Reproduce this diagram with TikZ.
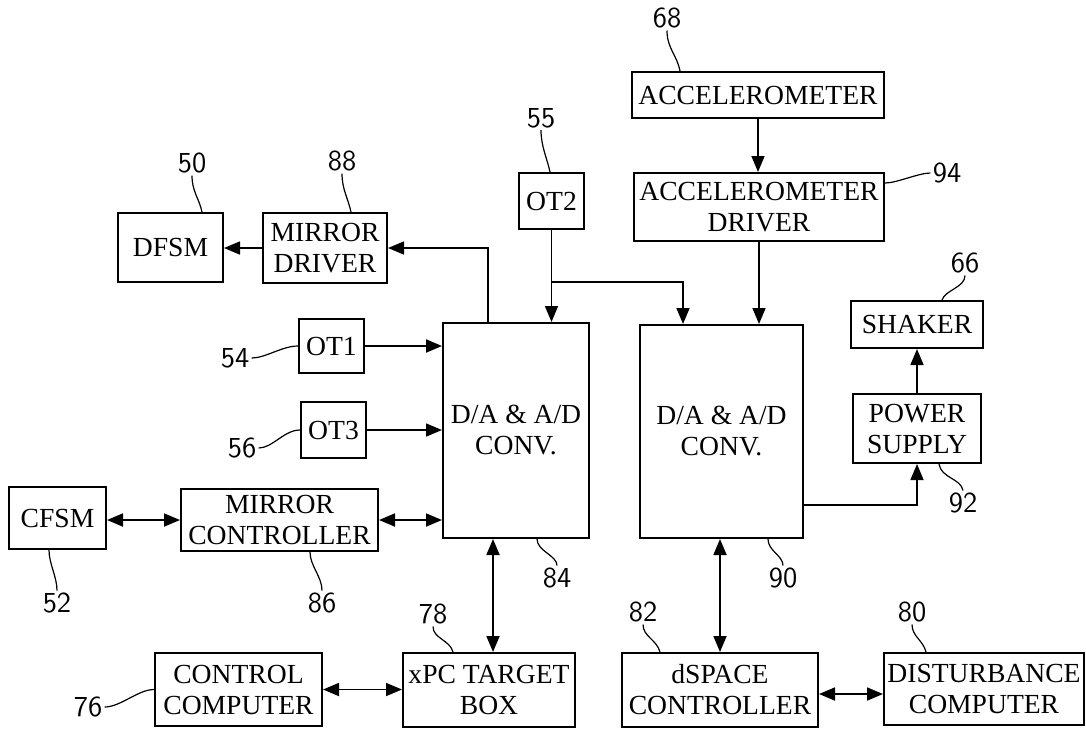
\documentclass[tikz,border=0pt]{standalone}
\usepackage{fontspec}
\setmainfont{Liberation Serif}
\usetikzlibrary{arrows.meta,calc}
\begin{document}
\begin{tikzpicture}[x=0.5pt,y=-0.5pt,
  box/.style={draw,line width=1pt,inner sep=0pt,align=center,font=\fontsize{13.8}{15.5}\selectfont},
  conn/.style={line width=0.8pt,-{Triangle[length=8pt,width=6.5pt]}},
  bi/.style={line width=0.9pt,{Triangle[length=8pt,width=6.5pt]}-{Triangle[length=8pt,width=6.5pt]}},
  ref/.style={font=\fontsize{14.5}{16}\sffamily,inner sep=1pt},
  lead/.style={line width=0.6pt}]
\useasboundingbox (0,0) rectangle (1086,730);

% boxes
\node[box,minimum width=52.5pt,minimum height=34.5pt] (DFSM) at (170.5,247.5) {DFSM};
\node[box,minimum width=62pt,minimum height=35pt] (MDRV) at (325,248) {MIRROR\\DRIVER};
\node[box,minimum width=32.5pt,minimum height=28pt] (OT2) at (551.5,201) {OT2};
\node[box,minimum width=126pt,minimum height=23pt] (ACC) at (758,95) {ACCELEROMETER};
\node[box,minimum width=125pt,minimum height=34pt] (ACCD) at (759,207) {ACCELEROMETER\\DRIVER};
\node[box,minimum width=66pt,minimum height=23.5pt] (SHK) at (917,324.5) {SHAKER};
\node[box,minimum width=64pt,minimum height=34.5pt] (PS) at (917,428.5) {POWER\\SUPPLY};
\node[box,minimum width=32.5pt,minimum height=27pt] (OT1) at (331.5,346) {OT1};
\node[box,minimum width=32.5pt,minimum height=28pt] (OT3) at (333.5,430) {OT3};
\node[box,minimum width=73pt,minimum height=107.5pt] (ADC1) at (516,430.5) {D/A \& A/D\\CONV.};
\node[box,minimum width=81.5pt,minimum height=106.5pt] (ADC2) at (721.5,431.5) {D/A \& A/D\\CONV.};
\node[box,minimum width=48.5pt,minimum height=31pt] (CFSM) at (57.5,518) {CFSM};
\node[box,minimum width=98.5pt,minimum height=31pt] (MCTL) at (279.5,520) {MIRROR\\CONTROLLER};
\node[box,minimum width=83.5pt,minimum height=36.5pt] (CC) at (238.5,689.5) {CONTROL\\COMPUTER};
\node[box,minimum width=86pt,minimum height=37pt] (XPC) at (489,690) {xPC TARGET\\BOX};
\node[box,minimum width=98pt,minimum height=37pt] (DSP) at (720,690) {dSPACE\\CONTROLLER};
\node[box,minimum width=100pt,minimum height=36pt] (DIST) at (984,689) {DISTURBANCE\\COMPUTER};

% connectors
\draw[conn] (MDRV.west) -- (MDRV.west -| DFSM.east);
\draw[conn] ([xshift=-14pt]ADC1.north) |- (MDRV.east);
\draw[conn] (OT2.south) -- (OT2.south |- ADC1.north);
\coordinate (j) at (OT2.south |- 0,282);
\draw[conn] (j) -| ([xshift=-19.25pt]ADC2.north);
\draw[conn] (ACC.south) -- (ACC.south |- ACCD.north);
\draw[conn] (ACCD.south) -- (ACCD.south |- ADC2.north);
\draw[conn] (PS.north) -- (SHK.south);
\draw[conn] ([yshift=-36.75pt]ADC2.east) -| (PS.south);
\draw[conn,line width=1pt] (OT1.east) -- (OT1.east -| ADC1.west);
\draw[conn] (OT3.east) -- (OT3.east -| ADC1.west);
\draw[bi] (CFSM.east |- MCTL.west) -- (MCTL.west);
\draw[bi] (MCTL.east) -- (MCTL.east -| ADC1.west);
\draw[bi] ([xshift=2pt]XPC.north) -- ([xshift=2pt]XPC.north |- ADC1.south);
\draw[bi] (DSP.north) -- (DSP.north |- ADC2.south);
\draw[bi] (CC.east) -- (CC.east -| XPC.west);
\draw[bi] ([yshift=-2pt]DSP.east) -- ([yshift=-2pt]DSP.east -| DIST.west);

% reference numerals
\node[ref] (l50) at (192,163) {50};
\node[ref] (l88) at (342,161) {88};
\node[ref] (l55) at (541,118) {55};
\node[ref] (l68) at (667,18) {68};
\node[ref] (l94) at (947,173) {94};
\node[ref] (l66) at (965,263) {66};
\node[ref] (l92) at (963,503) {92};
\node[ref] (l54) at (235,358) {54};
\node[ref] (l56) at (242,448) {56};
\node[ref] (l52) at (57,603) {52};
\node[ref] (l86) at (322,603) {86};
\node[ref] (l84) at (557,578) {84};
\node[ref] (l90) at (783,578) {90};
\node[ref] (l78) at (433,614) {78};
\node[ref] (l82) at (643,612) {82};
\node[ref] (l80) at (912,612) {80};
\node[ref] (l76) at (88,707) {76};

% leaders
\draw[lead] (l50.south) .. controls +(0,16) and +(-3,-14) .. (DFSM.north -| 202,0);
\draw[lead] (l88.south) .. controls +(0,16) and +(-3,-14) .. (MDRV.north -| 351,0);
\draw[lead] (l55.south) .. controls +(0,16) and +(-3,-14) .. (OT2.north -| 550,0);
\draw[lead] (l68.south) .. controls +(0,18) and +(-3,-16) .. (ACC.north -| 680,0);
\draw[lead] (ACCD.east |- 0,183) .. controls +(12,0) and +(-12,0) .. (l94.west);
\draw[lead] (l66.south) .. controls +(0,12) and +(3,-10) .. (SHK.north -| 942,0);
\draw[lead] (PS.south -| 939,0) .. controls +(2,14) and +(-2,-12) .. (l92.north);
\draw[lead] (l54.east) .. controls +(14,0) and +(-16,0) .. (OT1.west);
\draw[lead] (l56.east) .. controls +(14,0) and +(-16,0) .. (OT3.west);
\draw[lead] (CFSM.south -| 49,0) .. controls +(0,14) and +(0,-14) .. (l52.north);
\draw[lead] (MCTL.south -| 310,0) .. controls +(0,14) and +(0,-14) .. (l86.north);
\draw[lead] (ADC1.south -| 537,0) .. controls +(0,12) and +(0,-10) .. (l84.north);
\draw[lead] (ADC2.south -| 768,0) .. controls +(0,12) and +(0,-10) .. (l90.north);
\draw[lead] (l78.south) .. controls +(0,12) and +(-3,-12) .. (XPC.north -| 453,0);
\draw[lead] (l82.south) .. controls +(0,12) and +(-3,-12) .. (DSP.north -| 660,0);
\draw[lead] (l80.south) .. controls +(0,12) and +(-3,-12) .. (DIST.north -| 926,0);
\draw[lead] (l76.east) .. controls +(16,0) and +(-16,0) .. (CC.west);
\end{tikzpicture}
\end{document}
